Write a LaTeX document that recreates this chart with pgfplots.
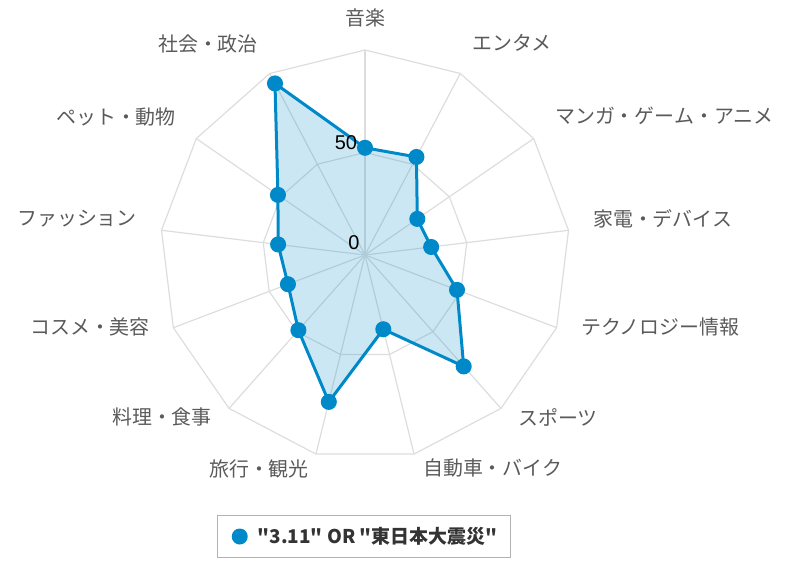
\documentclass[border=0pt]{standalone}
\usepackage{fontspec}
\setmainfont{Noto Sans CJK JP}
\newfontfamily\legfont{Noto Sans CJK JP}
\newfontfamily\numfont{Liberation Sans}
\usepackage{pgfplots}
\pgfplotsset{compat=1.18}
\definecolor{series}{RGB}{0,137,201}
\definecolor{gridc}{RGB}{221,221,221}
\definecolor{labelc}{RGB}{90,90,90}
\definecolor{legtext}{RGB}{51,51,51}

\begin{document}
\begin{tikzpicture}
\path (0,0) rectangle (800bp,571bp);
\begin{axis}[
  at={(0,0)}, anchor=south west,
  width=800bp, height=571bp, scale only axis,
  xmin=-178.049, xmax=212.195, ymin=-154.146, ymax=124.390,
  hide axis, clip=false,
  legend style={at={(0.455,0.0604)}, anchor=center,
    draw=gridc!80!black, line width=1.5bp,
    inner xsep=11bp, inner ysep=10bp,
    font=\legfont\fontsize{19}{23}\selectfont\bfseries\color{legtext}},
  legend image code/.code={
    \fill[series, fill opacity=1, draw=none] (0bp,0bp) circle (8bp);
    \path[draw=none] (-11bp,0bp) -- (16bp,0bp);},
]
% grid rings (values 50 and 100)
\addplot[gridc, line width=1.2bp, data cs=polar, forget plot] coordinates {
  (90,100) (62.3077,100) (34.6154,100) (6.9231,100) (-20.7692,100)
  (-48.4615,100) (-76.1538,100) (-103.8462,100) (-131.5385,100)
  (-159.2308,100) (-186.9231,100) (-214.6154,100) (-242.3077,100)} -- cycle;
\addplot[gridc, line width=1.2bp, data cs=polar, forget plot] coordinates {
  (90,50) (62.3077,50) (34.6154,50) (6.9231,50) (-20.7692,50)
  (-48.4615,50) (-76.1538,50) (-103.8462,50) (-131.5385,50)
  (-159.2308,50) (-186.9231,50) (-214.6154,50) (-242.3077,50)} -- cycle;
% spokes
\pgfplotsinvokeforeach{90,62.3077,34.6154,6.9231,-20.7692,-48.4615,-76.1538,-103.8462,-131.5385,-159.2308,-186.9231,-214.6154,-242.3077}{
  \addplot[gridc, line width=1.2bp, data cs=polar, forget plot] coordinates {(0,0) (#1,100)};
}
% series
\addplot[data cs=polar, draw=series, line width=3bp, fill=series, fill opacity=0.2,
  mark=*, mark size=6.5bp, mark options={draw=none, fill=series, fill opacity=1}]
  coordinates {
  (90,52.3) (62.3077,54) (34.6154,31) (6.9231,32.5) (-20.7692,48)
  (-48.4615,72.6) (-76.1538,37.3) (-103.8462,73.8) (-131.5385,49)
  (-159.2308,40.2) (-186.9231,42.7) (-214.6154,51.6) (-242.3077,94.5)} -- cycle;
\addlegendentry{"3.11" OR "東日本大震災"}
\end{axis}
\begin{scope}[x=1bp, y=-1bp, yshift=571bp,
  every node/.style={inner sep=0pt, text=labelc, font=\fontsize{20}{24}\selectfont}]
\node[anchor=center] at (365,18) {音楽};
\node[anchor=west] at (472,43) {エンタメ};
\node[anchor=west] at (555,116) {マンガ・ゲーム・アニメ};
\node[anchor=west] at (593,219) {家電・デバイス};
\node[anchor=west] at (581,327) {テクノロジー情報};
\node[anchor=west] at (518,417) {スポーツ};
\node[anchor=west] at (423,468) {自動車・バイク};
\node[anchor=east] at (309,469) {旅行・観光};
\node[anchor=east] at (212,417) {料理・食事};
\node[anchor=east] at (150,327) {コスメ・美容};
\node[anchor=east] at (137,219) {ファッション};
\node[anchor=east] at (176,117) {ペット・動物};
\node[anchor=east] at (258,44) {社会・政治};
\node[anchor=center, text=black, font=\numfont\fontsize{20}{24}\selectfont] at (346,143) {50};
\node[anchor=center, text=black, font=\numfont\fontsize{20}{24}\selectfont] at (354,243) {0};
\end{scope}
\end{tikzpicture}
\end{document}
